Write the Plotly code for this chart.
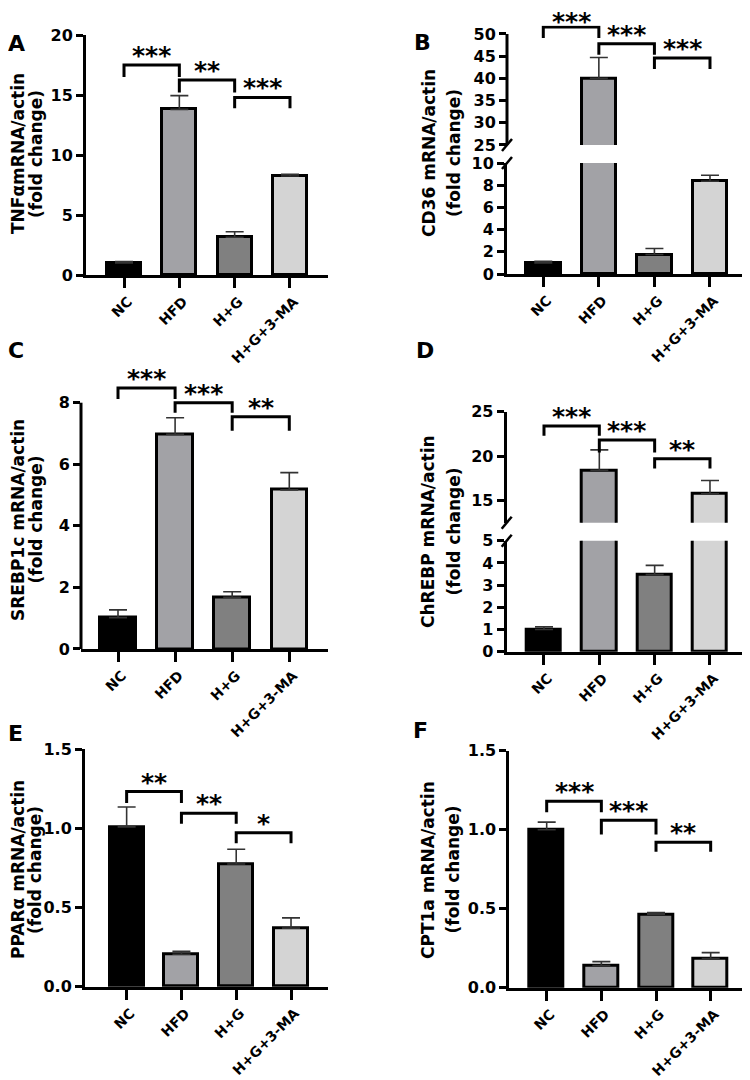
import plotly.graph_objects as go

W, H = 750, 1080
OFF = 8  # page body margin in the browser

# ---------------- data ----------------
categories = ["NC", "HFD", "H+G", "H+G+3-MA"]
bar_colors = ["#000000", "#a2a2a6", "#808080", "#d4d4d4"]

tnfa_mean = [1.0, 13.8, 3.15, 8.25]
tnfa_err = [0.12, 1.15, 0.45, 0.15]
cd36_mean = [1.0, 40.0, 1.75, 8.35]
cd36_err = [0.15, 4.7, 0.55, 0.55]
srebp_mean = [1.02, 6.97, 1.68, 5.17]
srebp_err = [0.25, 0.54, 0.18, 0.56]
chrebp_mean = [1.0, 18.4, 3.47, 15.75]
chrebp_err = [0.12, 2.3, 0.42, 1.5]
ppara_mean = [1.01, 0.205, 0.775, 0.37]
ppara_err = [0.125, 0.018, 0.093, 0.065]
cpt1a_mean = [1.0, 0.14, 0.465, 0.185]
cpt1a_err = [0.048, 0.025, 0.01, 0.037]

sig_pairs = [(0, 1), (1, 2), (2, 3)]
tnfa_br_top = [17.5, 16.25, 14.8]
tnfa_br_end = [16.5, 15.2, 13.9]
tnfa_stars = ["***", "**", "***"]
cd36_br_top = [51.6, 47.8, 44.6]
cd36_br_end = [49.1, 45.3, 42.1]
cd36_stars = ["***", "***", "***"]
srebp_br_top = [8.48, 8.0, 7.54]
srebp_br_end = [8.12, 7.67, 7.09]
srebp_stars = ["***", "***", "**"]
chrebp_br_top = [23.4, 21.8, 19.7]
chrebp_br_end = [22.3, 20.4, 18.6]
chrebp_stars = ["***", "***", "**"]
ppara_br_top = [1.233, 1.096, 0.973]
ppara_br_end = [1.16, 1.03, 0.906]
ppara_stars = ["**", "**", "*"]
cpt1a_br_top = [1.18, 1.06, 0.92]
cpt1a_br_end = [1.11, 0.97, 0.86]
cpt1a_stars = ["***", "***", "**"]

tnfa_ticks = [0, 5, 10, 15, 20]
cd36_ticks_low = [0, 2, 4, 6, 8, 10]
cd36_ticks_high = [25, 30, 35, 40, 45, 50]
srebp_ticks = [0, 2, 4, 6, 8]
chrebp_ticks_low = [0, 1, 2, 3, 4, 5]
chrebp_ticks_high = [15, 20, 25]
ppara_ticks = [0, 0.5, 1.0, 1.5]
cpt1a_ticks = [0, 0.5, 1.0, 1.5]

# ---------------- layout (screen pixel geometry) ----------------
panels = [
    dict(letter="A", title="TNFαmRNA/actin", mean=tnfa_mean, err=tnfa_err,
         br_top=tnfa_br_top, br_end=tnfa_br_end, stars=tnfa_stars,
         xpx=(86, 328), xr=(-0.687, 3.687),
         segs=[dict(v=(0, 20), px=(275, 35), ticks=tnfa_ticks, fmt="")],
         letter_pos=(16.5, 44), title_x=(18, 36), title_y=154),
    dict(letter="B", title="CD36 mRNA/actin", mean=cd36_mean, err=cd36_err,
         br_top=cd36_br_top, br_end=cd36_br_end, stars=cd36_stars,
         xpx=(507, 747), xr=(-0.653, 3.666),
         segs=[dict(v=(0, 10), px=(274, 163), ticks=cd36_ticks_low, fmt=""),
               dict(v=(25, 50), px=(145, 34), ticks=cd36_ticks_high, fmt="")],
         letter_pos=(422.5, 42.5), title_x=(429, 454), title_y=153),
    dict(letter="C", title="SREBP1c mRNA/actin", mean=srebp_mean, err=srebp_err,
         br_top=srebp_br_top, br_end=srebp_br_end, stars=srebp_stars,
         xpx=(81, 328), xr=(-0.648, 3.678),
         segs=[dict(v=(0, 8), px=(649, 402.7), ticks=srebp_ticks, fmt="")],
         letter_pos=(15.5, 350.5), title_x=(18, 35.5), title_y=520),
    dict(letter="D", title="ChREBP mRNA/actin", mean=chrebp_mean, err=chrebp_err,
         br_top=chrebp_br_top, br_end=chrebp_br_end, stars=chrebp_stars,
         xpx=(506.7, 747), xr=(-0.674, 3.669),
         segs=[dict(v=(0, 5), px=(651.7, 540.7), ticks=chrebp_ticks_low, fmt=""),
               dict(v=(12.5, 25), px=(522.7, 411.7), ticks=chrebp_ticks_high, fmt="")],
         letter_pos=(425, 350.5), title_x=(428, 453.5), title_y=532),
    dict(letter="E", title="PPARα mRNA/actin", mean=ppara_mean, err=ppara_err,
         br_top=ppara_br_top, br_end=ppara_br_end, stars=ppara_stars,
         xpx=(85, 328), xr=(-0.76, 3.675),
         segs=[dict(v=(0, 1.5), px=(986.7, 749.3), ticks=ppara_ticks, fmt=".1f")],
         letter_pos=(15.5, 733.5), title_x=(18, 35), title_y=870),
    dict(letter="F", title="CPT1a mRNA/actin", mean=cpt1a_mean, err=cpt1a_err,
         br_top=cpt1a_br_top, br_end=cpt1a_br_end, stars=cpt1a_stars,
         xpx=(509.3, 748), xr=(-0.684, 3.683),
         segs=[dict(v=(0, 1.5), px=(987.7, 750.7), ticks=cpt1a_ticks, fmt=".1f")],
         letter_pos=(420.5, 730), title_x=(428, 452.5), title_y=870),
]


def fx(p):
    return (p - OFF) / W


def fy(p):
    return 1 - (p - OFF) / H


FONT = "DejaVu Sans"
ytickfont = dict(family=FONT, size=16, color="black", weight="bold")
xtickfont = dict(family=FONT, size=14, color="black", weight="bold")
xpos = list(range(len(categories)))

fig = go.Figure()
layout = dict(width=W, height=H, margin=dict(l=0, r=0, t=0, b=0, pad=0, autoexpand=False),
              autosize=False,
              plot_bgcolor="white", paper_bgcolor="white", showlegend=False,
              bargap=0, annotations=[], shapes=[])

yid = 0
for k, p in enumerate(panels):
    xn = k + 1
    xname = "x" if xn == 1 else f"x{xn}"
    xkey = "xaxis" if xn == 1 else f"xaxis{xn}"
    seg_ids = []
    nseg = len(p["segs"])
    top_map = None
    for si, s in enumerate(p["segs"]):
        yid += 1
        yname = "y" if yid == 1 else f"y{yid}"
        ykey = "yaxis" if yid == 1 else f"yaxis{yid}"
        seg_ids.append(yname)
        v0, v1 = s["v"]
        px0, px1 = s["px"]
        scale = (px0 - px1) / (v1 - v0)
        rtop = v1
        if si == nseg - 1:
            rtop = max(v1, max(p["br_top"]) + 0.01 * (v1 - v0))
            top_map = (v0, px0, scale)
        dom_top_px = px0 - (rtop - v0) * scale
        layout[ykey] = dict(
            domain=[fy(px0), fy(dom_top_px)], range=[v0, rtop], anchor=xname,
            showline=(rtop == v1), linewidth=3, linecolor="black", automargin=False,
            ticks="outside", ticklen=7, tickwidth=2.5, tickcolor="black",
            tickvals=s["ticks"], tickformat=s["fmt"], tickfont=ytickfont,
            showgrid=False, zeroline=False, fixedrange=True)
        if rtop != v1:
            layout["shapes"].append(dict(
                type="line", xref=f"{xname} domain", yref=f"{yname} domain",
                x0=0, x1=0, y0=0, y1=(v1 - v0) / (rtop - v0),
                line=dict(color="black", width=3)))
        fig.add_trace(go.Bar(
            x=xpos, y=p["mean"], xaxis=xname, yaxis=yname, width=0.62,
            marker=dict(color=bar_colors, line=dict(color="black", width=3)),
            error_y=dict(type="data", array=p["err"], arrayminus=[0] * 4,
                         symmetric=False, color="#333333", thickness=1.6, width=9),
            hoverinfo="skip"))
    layout[xkey] = dict(
        domain=[fx(p["xpx"][0]), fx(p["xpx"][1])], range=list(p["xr"]), anchor=seg_ids[0],
        showline=True, linewidth=3, linecolor="black", automargin=False,
        ticks="outside", ticklen=10, tickwidth=2.5, tickcolor="black",
        tickvals=xpos, ticktext=categories, tickangle=-45, tickfont=xtickfont,
        ticklabelshift=4,
        showgrid=False, zeroline=False, fixedrange=True)

    # significance brackets
    ytop = seg_ids[-1]
    v0, px0, scale = top_map
    for (i, j), top, end, st in zip(sig_pairs, p["br_top"], p["br_end"], p["stars"]):
        layout["shapes"].append(dict(
            type="path", xref=xname, yref=ytop,
            path=f"M {i},{end} L {i},{top} L {j},{top} L {j},{end}",
            line=dict(color="black", width=3)))
        glyph_top = px0 - (top - v0) * scale - 18
        ysh = -7 - max(0.0, 13.5 - glyph_top)
        layout["annotations"].append(dict(
            x=(i + j) / 2, y=top, xref=xname, yref=ytop, text=st, showarrow=False,
            xanchor="center", yanchor="bottom", yshift=ysh,
            font=dict(family=FONT, size=25, color="black", weight="bold")))

    # axis break marks
    if nseg == 2:
        ax_x = p["xpx"][0]
        for edge_px in (p["segs"][1]["px"][0], p["segs"][0]["px"][1]):
            layout["shapes"].append(dict(
                type="line", xref="paper", yref="paper",
                x0=fx(ax_x - 5), y0=fy(edge_px + 6),
                x1=fx(ax_x + 5), y1=fy(edge_px - 6),
                line=dict(color="black", width=2.5)))

    # panel letter
    lx, ly = p["letter_pos"]
    layout["annotations"].append(dict(
        x=fx(lx), y=fy(ly), xref="paper", yref="paper", text=p["letter"],
        showarrow=False, xanchor="center", yanchor="middle",
        font=dict(family=FONT, size=22, color="black", weight="bold")))
    # y-axis titles (two lines)
    for tx, txt in zip(p["title_x"], [p["title"], "(fold change)"]):
        layout["annotations"].append(dict(
            x=fx(tx), y=fy(p["title_y"]), xref="paper", yref="paper", text=txt,
            textangle=-90, showarrow=False, xanchor="center", yanchor="middle",
            font=dict(family=FONT, size=17, color="black", weight="bold")))

fig.update_layout(**layout)
fig.write_html("out.html")
